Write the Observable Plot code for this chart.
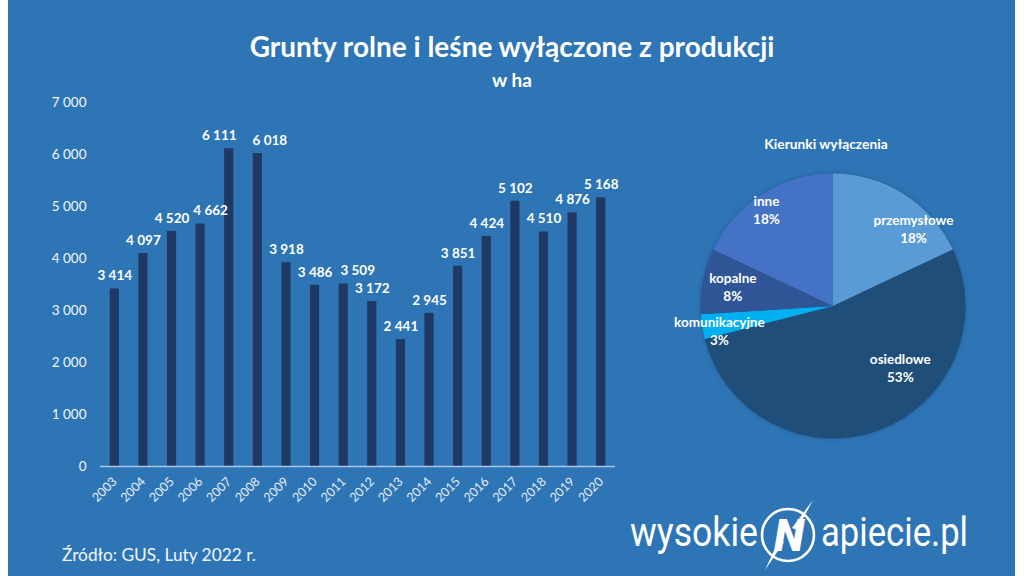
<!DOCTYPE html>
<html lang="pl">
<head>
<meta charset="utf-8">
<script src="https://cdn.jsdelivr.net/npm/d3@7"></script>
<script src="https://cdn.jsdelivr.net/npm/@observablehq/plot@0.6"></script>
<style>
  html, body { margin: 0; padding: 0; background: #fff; width: 1024px; height: 576px; overflow: hidden; }
  #page { position: absolute; left: 8px; top: 0; width: 1007px; height: 576px; background: #2E75B6; }
  #stage { position: absolute; left: 0; top: 0; width: 1024px; height: 576px; font-family: Lato, sans-serif; color: #fff; }
  #stage > * { position: absolute; }
  .center { text-align: center; font-weight: 700; white-space: nowrap; }
  #title { left: 0; width: 1024px; top: 28px; font-size: 28px; line-height: 36px; }
  #subtitle { left: 0; width: 1024px; top: 68px; font-size: 19px; line-height: 24px; }
  #pietitle { left: 726px; width: 200px; top: 135px; font-size: 13.8px; line-height: 18px; }
  #source { left: 62px; top: 543px; font-size: 17.3px; line-height: 24px; color: #f2f6fb; }
  svg { overflow: visible; background: transparent; }
</style>
</head>
<body>
<div id="page"></div>
<div id="stage">
  <div id="title" class="center">Grunty rolne i leśne wyłączone z produkcji</div>
  <div id="subtitle" class="center">w ha</div>
  <div id="pietitle" class="center">Kierunki wyłączenia</div>
  <div id="source">Źródło: GUS, Luty 2022 r.</div>
  <svg id="logo" width="400" height="90" style="left:620px;top:490px" viewBox="620 490 400 90">
    <g fill="#fff" font-family="Roboto, sans-serif">
      <text x="630" y="546" font-size="40" textLength="128" lengthAdjust="spacingAndGlyphs">wysokie</text>
      <text x="821" y="546" font-size="40" textLength="147" lengthAdjust="spacingAndGlyphs">apiecie.pl</text>
      <circle cx="788" cy="535" r="26" fill="none" stroke="#fff" stroke-width="2.6"/>
      <text x="789" y="551" font-size="44" font-weight="900" font-style="italic" text-anchor="middle">N</text>
      <polygon points="813,500 797,530 792,528"/>
      <polygon points="765,570 779,540 784,542"/>
    </g>
  </svg>
</div>
<script>
const years = ["2003","2004","2005","2006","2007","2008","2009","2010","2011","2012","2013","2014","2015","2016","2017","2018","2019","2020"];
const hectares = [3414,4097,4520,4662,6111,6018,3918,3486,3509,3172,2441,2945,3851,4424,5102,4510,4876,5168];
const yTicks = [0,1000,2000,3000,4000,5000,6000,7000];

const pieNames = ["przemysłowe","osiedlowe","komunikacyjne","kopalne","inne"];
const pieShares = [18,53,3,8,18];
const pieColors = ["#5B9BD5","#1F4E79","#00B0F0","#2F5597","#4472C4"];

// Manual label placement of the original, kept apart from the data
const barLabelNudge = {"2006":10,"2007":-10,"2008":12,"2011":14};
const pieLabelNudge = [[36,-9],[39,-17],[-33,11],[-20,-5],[-23,-28]];

const spaced = v => d3.format(",")(v).replace(/,/g, "\u00a0");
const bars = years.map((year,i) => ({year, value: hectares[i]}));
const nudged = Object.keys(barLabelNudge);

const labelStyle = {fill:"#fff", fontWeight:700, fontSize:13.5, text:d=>spaced(d.value), x:"year", y:"value", dy:-13};

const barChart = Plot.plot({
  width:1024, height:576,
  marginLeft:100, marginRight:409, marginTop:102, marginBottom:110,
  style:{fontFamily:"Lato, sans-serif", background:"transparent", color:"#fff"},
  x:{domain:years, paddingInner:0.68, paddingOuter:0.34, round:false, label:null},
  y:{domain:[0,7000], label:null},
  marks:[
    Plot.barY(bars,{x:"year", y:"value", fill:"#1F3864"}),
    Plot.ruleY([0],{stroke:"#A9C8E6", strokeWidth:1.3}),
    Plot.axisY({ticks:yTicks, tickFormat:spaced, tickSize:0, tickPadding:14, fontSize:13.5, color:"#F2F6FB", label:null}),
    Plot.axisX({tickRotate:-45, tickSize:0, tickPadding:13, fontSize:12.5, color:"#E6EEF7", label:null}),
    Plot.text(bars.filter(d=>!nudged.includes(d.year)), labelStyle),
    ...nudged.map(y => Plot.text(bars.filter(d=>d.year===y), {...labelStyle, dx:barLabelNudge[y]}))
  ]
});
barChart.style.left="0px"; barChart.style.top="0px";
document.getElementById("stage").appendChild(barChart);

// Pie
const pieW = 340, pieH = 300, pieR = 132.5;
const arcs = d3.pie().sort(null).value(d=>d)(pieShares);
const pieRows = pieNames.map((name,i)=>{
  const mid = (arcs[i].startAngle+arcs[i].endAngle)/2;
  return {
    name, share:pieShares[i], color:pieColors[i], arc:arcs[i],
    x: 0.62*Math.sin(mid) + pieLabelNudge[i][0]/pieR,
    y: 0.62*Math.cos(mid) - pieLabelNudge[i][1]/pieR
  };
});

const pieChart = Plot.plot({
  width:pieW, height:pieH, margin:0,
  style:{fontFamily:"Lato, sans-serif", background:"transparent", color:"#fff"},
  x:{domain:[-pieW/2/pieR, pieW/2/pieR], axis:null},
  y:{domain:[-pieH/2/pieR, pieH/2/pieR], axis:null},
  marks:[
    (index, scales) => {
      const r = scales.x(1)-scales.x(0);
      const g = d3.create("svg:g")
        .attr("transform",`translate(${scales.x(0)},${scales.y(0)})`)
        .style("filter","drop-shadow(0 0 2px rgba(20,50,90,.35))");
      const arc = d3.arc().innerRadius(0).outerRadius(r);
      g.selectAll("path").data(pieRows).join("path")
        .attr("d",d=>arc(d.arc)).attr("fill",d=>d.color);
      return g.node();
    },
    Plot.text(pieRows,{x:"x", y:"y", text:d=>`${d.name}\n${d.share}%`, fill:"#fff", fontWeight:700, fontSize:13.5, lineHeight:1.33})
  ]
});
pieChart.style.left=(833-pieW/2)+"px"; pieChart.style.top=(306-pieH/2)+"px";
document.getElementById("stage").appendChild(pieChart);
</script>
</body>
</html>
